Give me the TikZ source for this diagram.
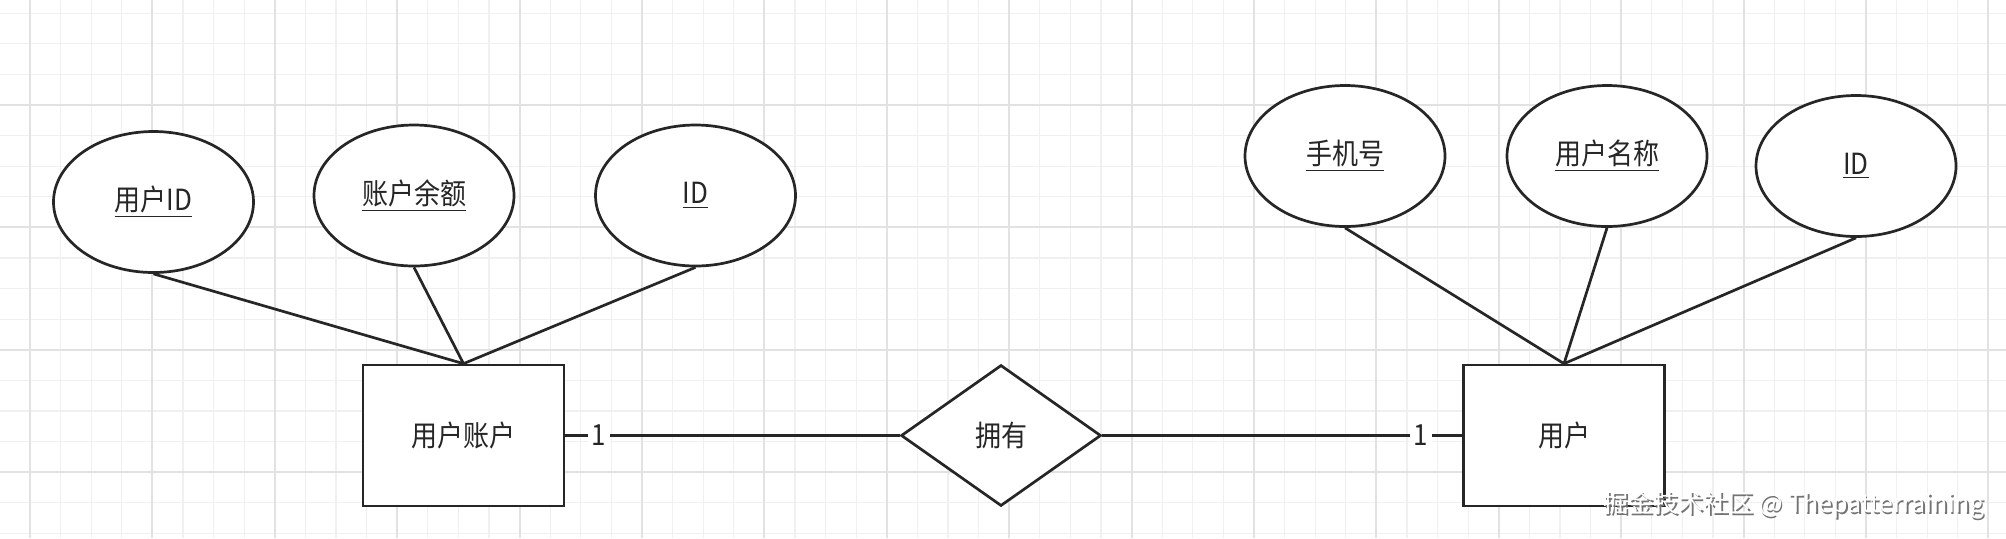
\documentclass[tikz,border=0pt]{standalone}
\usepackage{fontspec}
\usepackage{graphicx}
\setmainfont{Noto Sans CJK SC}
\usetikzlibrary{shapes.geometric}
\definecolor{ink}{HTML}{262626}
\definecolor{gridminor}{HTML}{F0F0F0}
\definecolor{gridmajor}{HTML}{E2E2E2}
\newcommand{\tallt}[1]{\scalebox{1}[1.12]{#1}}
\begin{document}
\begin{tikzpicture}[x=0.5pt,y=-0.5pt,
  lbl/.style={font=\fontsize{13pt}{15pt}\selectfont,text=ink},
  attr/.style={ellipse,draw=ink,line width=1.35pt,fill=white,minimum width=100pt,minimum height=70.5pt,inner sep=0pt,lbl},
  entity/.style={rectangle,draw=ink,line width=1.35pt,fill=white,minimum width=100.5pt,minimum height=70.5pt,inner sep=0pt,lbl},
  rel/.style={diamond,draw=ink,line width=1.35pt,fill=white,minimum width=100pt,minimum height=70.5pt,inner sep=0pt,lbl},
  link/.style={draw=ink,line width=1.35pt},
  card/.style={fill=white,inner sep=0pt,minimum width=11pt,minimum height=12pt,lbl},
  gminor/.style={draw=gridminor,line width=0.6pt},
  gmajor/.style={draw=gridmajor,line width=1pt},
  wmark/.style={font=\fontsize{12.5pt}{14pt}\selectfont}
]
\useasboundingbox[fill=white] (0,0) rectangle (2006,538);
% grid
\foreach \i in {0,...,66} { \draw[gminor] ({\i*30.6-0.6},0) -- ({\i*30.6-0.6},538); }
\foreach \i in {0,...,17} { \draw[gminor] (0,{13.2+\i*30.6}) -- (2006,{13.2+\i*30.6}); }
\foreach \i in {0,...,16} { \draw[gmajor] ({30+\i*122.4},0) -- ({30+\i*122.4},538); }
\foreach \i in {0,...,3} { \draw[gmajor] (0,{105+\i*122.4}) -- (2006,{105+\i*122.4}); }

% left entity and its attributes
\node[entity] (acct) at (463.5,435.5) {\tallt{用户账户}};
\node[attr] (uid) at (153.5,202) {\tallt{\underline{用户ID}}};
\node[attr] (bal) at (414,195.5) {\tallt{\underline{账户余额}}};
\node[attr] (aid) at (695.5,195.5) {\tallt{\underline{ID}}};

% relationship
\node[rel] (own) at (1001,435.5) {\tallt{拥有}};

% right entity and its attributes
\node[entity] (user) at (1564,435.5) {\tallt{用户}};
\node[attr] (phone) at (1345,156) {\tallt{\underline{手机号}}};
\node[attr] (uname) at (1607,156) {\tallt{\underline{用户名称}}};
\node[attr] (rid) at (1856,166) {\tallt{\underline{ID}}};

% connectors
\draw[link] (uid.south) -- (acct.north);
\draw[link] (bal.south) -- (acct.north);
\draw[link] (aid.south) -- (acct.north);
\draw[link] (phone.south) -- (user.north);
\draw[link] (uname.south) -- (user.north);
\draw[link] (rid.south) -- (user.north);
\draw[link] (acct.east) -- node[card,pos=0.101] (c1) {\tallt{1}} (own.west);
\draw[link] (own.east) -- node[card,pos=0.885] (c2) {\tallt{1}} (user.west);

% watermark
\node[wmark,text=black!55] (wmshadow) at (1795.5,506.5) {掘金技术社区 @ Thepatterraining};
\node[wmark,text=white] (wm) at (1794,505) {掘金技术社区 @ Thepatterraining};
\end{tikzpicture}
\end{document}
